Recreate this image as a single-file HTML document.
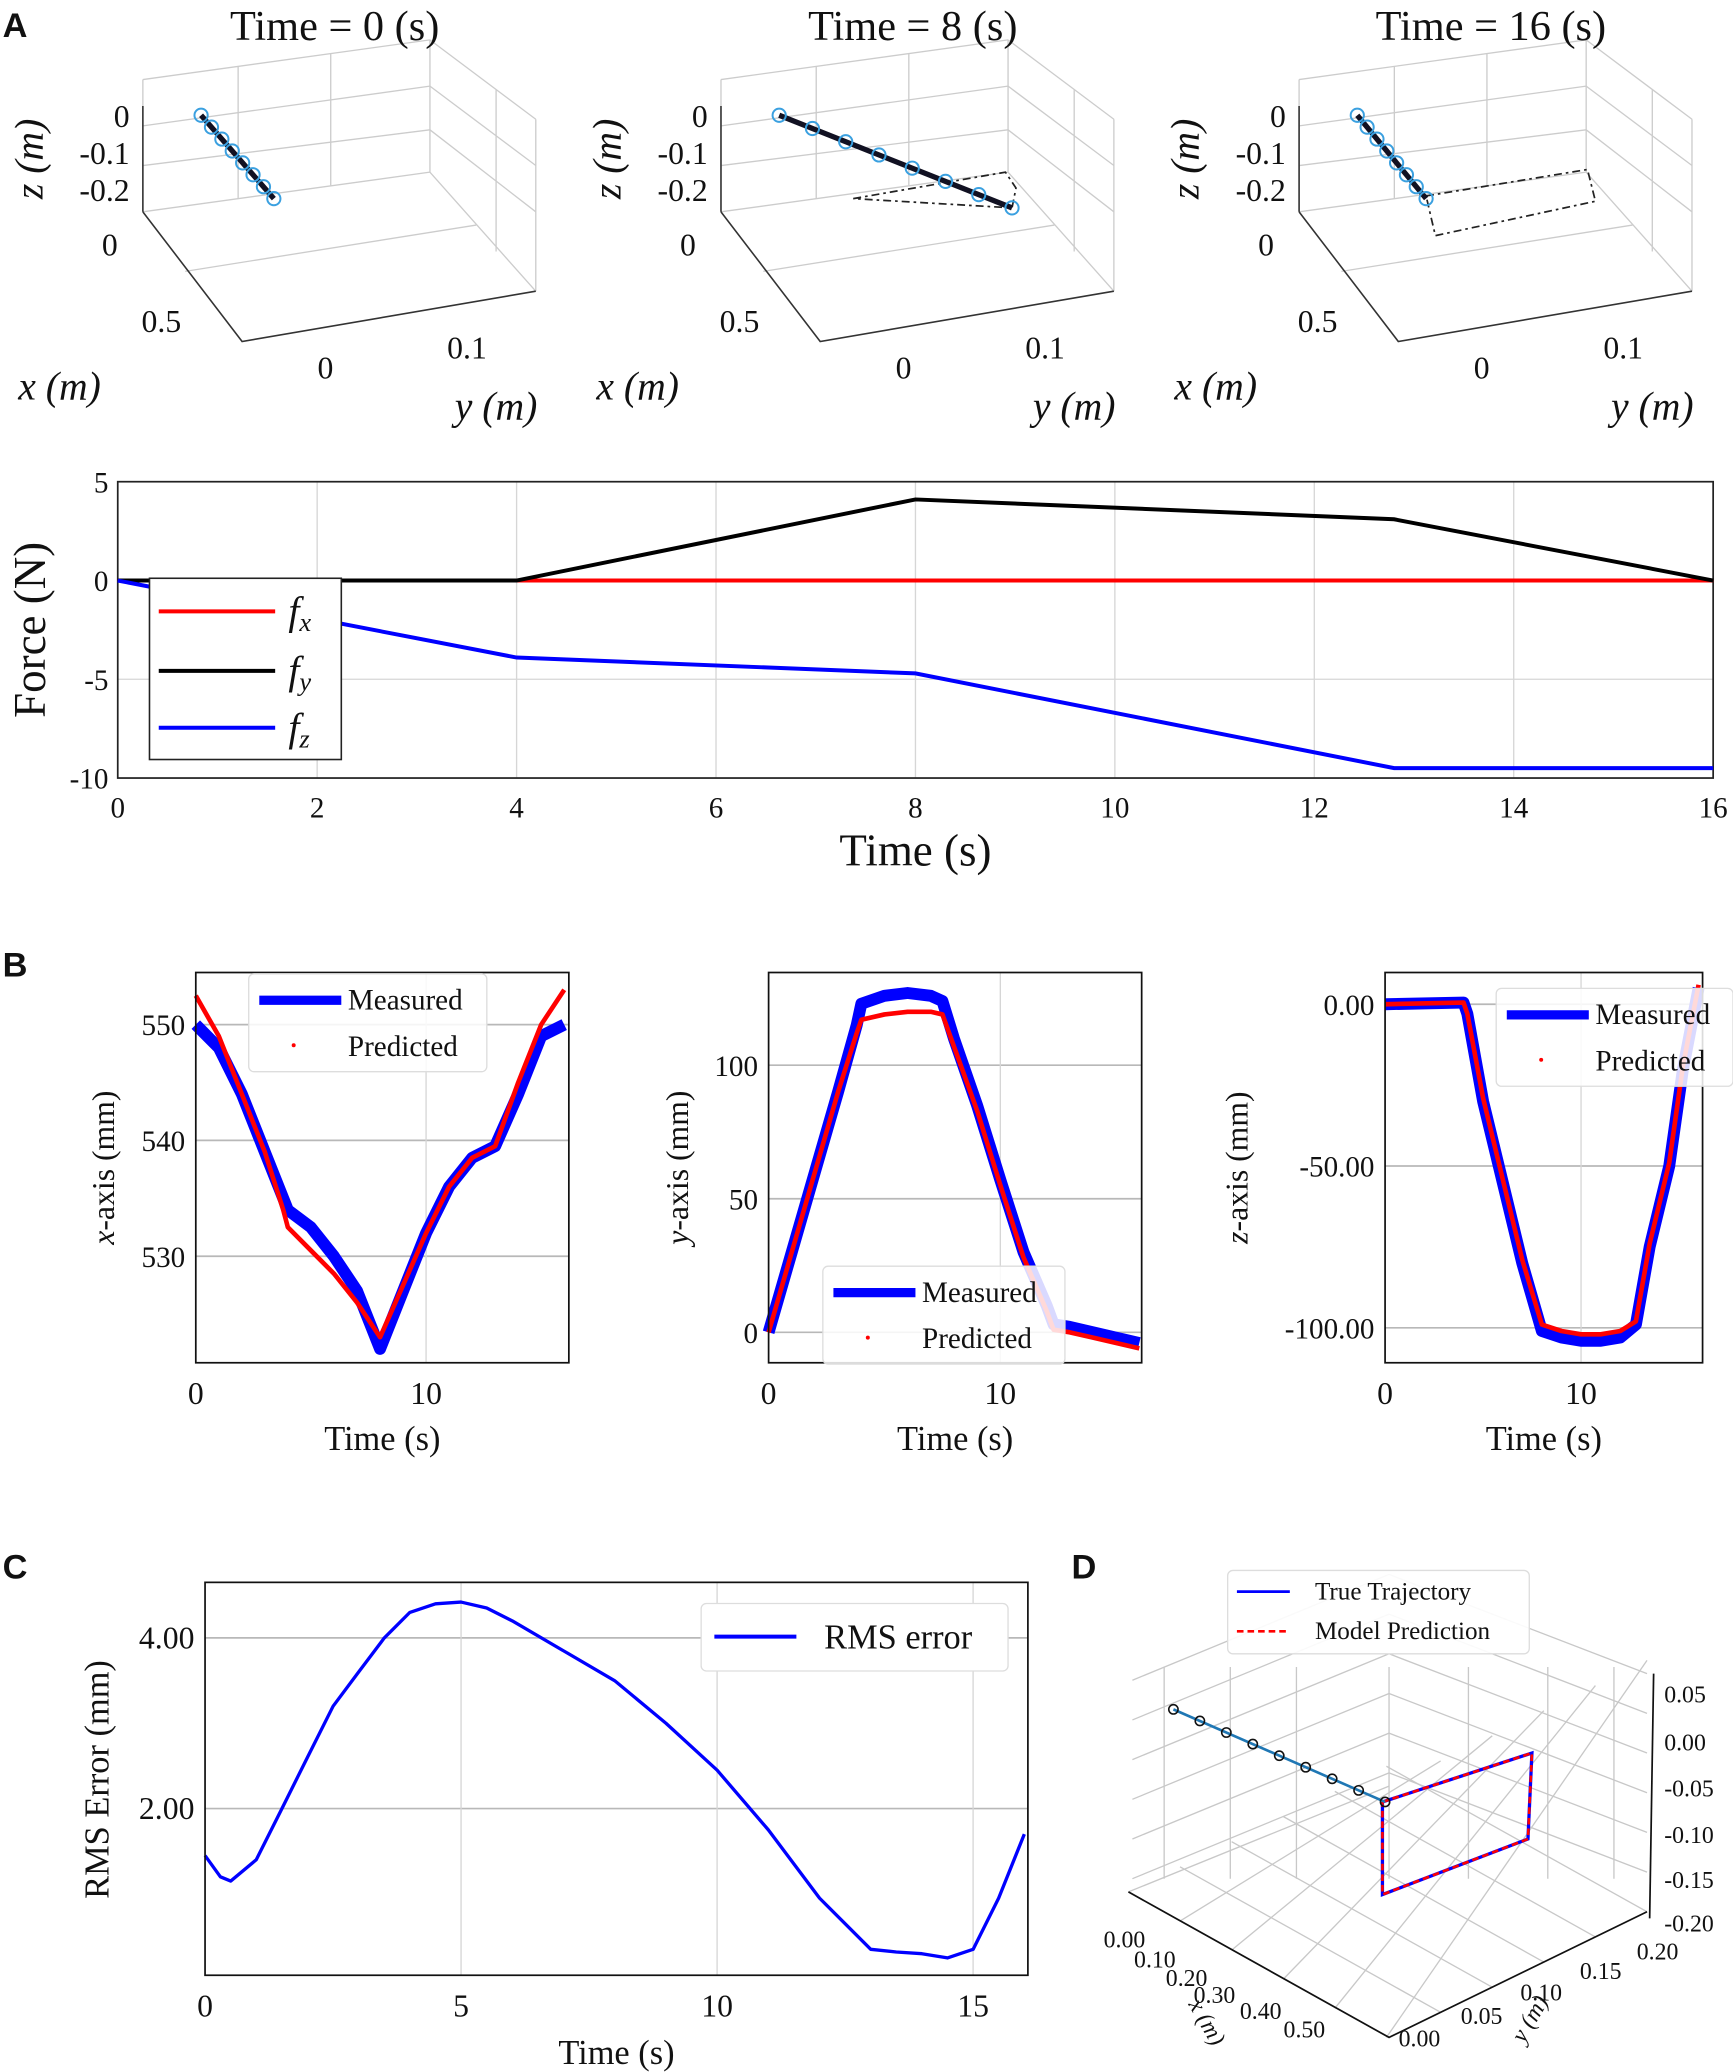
<!DOCTYPE html>
<html><head><meta charset="utf-8"><style>
html,body{margin:0;padding:0;background:#fff}
svg{display:block}
text{font-family:"Liberation Serif",serif;fill:#111}
.pl{font-family:"Liberation Sans",sans-serif;font-weight:bold;font-size:26px}
.g{stroke:#d6d6d6;stroke-width:1}
.g2{stroke:#b8b8b8;stroke-width:1.3}
.t{font-size:22px}
</style></head><body>
<svg id="fig" width="1733" height="2072" viewBox="0 0 1310 1566" xmlns="http://www.w3.org/2000/svg">
<text class="pl" x="2" y="28">A</text>
<text class="pl" x="2" y="738">B</text>
<text class="pl" x="2" y="1193">C</text>
<text class="pl" x="810" y="1193">D</text>
<g id="a3d"></g>
<g id="force"></g>
<g id="b1"></g>
<g id="b2"></g>
<g id="b3"></g>
<g id="c"></g>
<g id="d"></g>
</svg>
<script>
// ---- data ----
const forceT = [0, 4, 8, 12.8, 16];
const forceFx = [0, 0, 0, 0, 0];
const forceFy = [0, 0, 4.1, 3.1, 0];
const forceFz = [0, -3.9, -4.7, -9.5, -9.5];
const forceXTicks = [0, 2, 4, 6, 8, 10, 12, 14, 16];
const forceYTicks = [5, 0, -5, -10];

const bxT = [0, 1, 2, 3, 3.8, 4, 5, 6, 7, 8, 9, 10, 11, 12, 13, 14, 15, 16];
const bxMeas = [550, 548, 544, 539, 535, 534, 532.5, 530, 527, 522, 527, 532, 536, 538.5, 539.5, 544, 549, 550];
const bxPred = [552.5, 549, 544, 539, 534, 532.5, 530.5, 528.5, 526, 523, 527.5, 532, 536, 538.5, 539.5, 545, 550, 553];
const bxYTicks = [550, 540, 530];

const byT = [0, 1, 2, 3, 3.8, 4, 5, 6, 7, 7.5, 8, 9, 10, 11, 12, 12.3, 13, 14, 15, 16];
const byMeas = [0, 30, 60, 90, 115, 123, 126, 127, 126, 124, 110, 85, 57, 30, 10, 3, 2, 0, -2, -4];
const byPred = [0, 30, 60, 90, 112, 117, 119, 120, 120, 119, 107, 83, 55, 28, 8, 1, 0, -2, -4, -6];
const byYTicks = [100, 50, 0];

const bzT = [0, 4, 4.2, 5, 6, 7, 8, 9, 10, 11, 12, 12.8, 13.5, 14.5, 15.2, 16];
const bzMeas = [0, 0.5, -3, -30, -55, -80, -101, -103, -104, -104, -103, -99, -75, -50, -20, 5];
const bzPred = [0, 0.5, -3, -29, -54, -79, -99, -101, -102, -102, -101, -98, -74, -49, -19, 6];
const bzYTicks = [0, -50, -100];
const bzYLabels = ["0.00", "-50.00", "-100.00"];

const cT = [0, 0.3, 0.5, 1, 1.5, 2, 2.5, 3, 3.5, 4, 4.5, 5, 5.5, 6, 7, 8, 9, 10, 11, 12, 13, 13.5, 14, 14.5, 15, 15.5, 16];
const cRms = [1.45, 1.2, 1.15, 1.4, 2.0, 2.6, 3.2, 3.6, 4.0, 4.3, 4.4, 4.42, 4.35, 4.2, 3.85, 3.5, 3.0, 2.45, 1.75, 0.95, 0.35, 0.32, 0.3, 0.25, 0.35, 0.95, 1.7];
const cYTicks = [4, 2];
const cYLabels = ["4.00", "2.00"];
const bXTicks = [0, 10];
const cXTicks = [0, 5, 10, 15];

const NS = "http://www.w3.org/2000/svg";
function mk(parent, tag, attrs, txt) {
  const e = document.createElementNS(NS, tag);
  for (const k in attrs) e.setAttribute(k, attrs[k]);
  if (txt !== undefined) e.textContent = txt;
  parent.appendChild(e);
  return e;
}
function lin(d0, d1, r0, r1) { return v => r0 + (v - d0) * (r1 - r0) / (d1 - d0); }
function pts(xs, ys, X, Y) { return xs.map((v, i) => X(v).toFixed(1) + "," + Y(ys[i]).toFixed(1)).join(" "); }

// ---- Force chart ----
(function () {
  const g = document.getElementById('force');
  const X = lin(0, 16, 89, 1295), Y = lin(5, -10, 364, 588);
  forceXTicks.forEach(v => {
    const l = mk(g, 'line', { x1: X(v), x2: X(v), y1: 364, y2: 588, class: 'g' });
    
    
    const t = mk(g, 'text', { x: X(v), y: 618, 'text-anchor': 'middle', 'font-size': 22 }, v);
    
    
  });
  forceYTicks.forEach(v => {
    const l = mk(g, 'line', { x1: 89, x2: 1295, y1: Y(v), y2: Y(v), class: 'g' });
    
    
    const t = mk(g, 'text', { x: 82, y: Y(v) + 8, 'text-anchor': 'end', 'font-size': 22 }, v);
    
    
  });
  const ax = mk(g, 'rect', { x: 89, y: 364, width: 1206, height: 224, fill: 'none', stroke: '#222', 'stroke-width': 1.3 });
  
  
  const s1 = mk(g, 'polyline', { points: pts(forceT, forceFx, X, Y), fill: 'none', stroke: '#f00', 'stroke-width': 3 });
  
  
  const s2 = mk(g, 'polyline', { points: pts(forceT, forceFy, X, Y), fill: 'none', stroke: '#000', 'stroke-width': 3 });
  
  
  const s3 = mk(g, 'polyline', { points: pts(forceT, forceFz, X, Y), fill: 'none', stroke: '#00f', 'stroke-width': 3 });
  
  
  const lg = mk(g, 'g', {});
  
  
  mk(lg, 'rect', { x: 113, y: 437, width: 145, height: 137, fill: '#fff', stroke: '#222', 'stroke-width': 1.2 });
  [['#f00', 'x', 462], ['#000', 'y', 507], ['#00f', 'z', 550]].forEach(e => {
    mk(lg, 'line', { x1: 120, x2: 208, y1: e[2], y2: e[2], stroke: e[0], 'stroke-width': 3 });
    const t = mk(lg, 'text', { x: 218, y: e[2] + 10, 'font-size': 30, 'font-style': 'italic' }, 'f');
    mk(t, 'tspan', { 'font-size': 20, dy: 5 }, e[1]);
  });
  const xl = mk(g, 'text', { x: 692, y: 654, 'text-anchor': 'middle', 'font-size': 34 }, 'Time (s)');
  
  
  const yl = mk(g, 'text', { x: 0, y: 0, 'text-anchor': 'middle', 'font-size': 34, transform: 'translate(34,476) rotate(-90)' }, 'Force (N)');
  
  
})();

// ---- B panels ----
function bchart(id, box, xmax, ymin, ymax, T, M, P, yt, ylab, ytitle, leg) {
  const g = document.getElementById(id);
  const [x0, y0, x1, y1] = box;
  const X = lin(0, xmax, x0, x1), Y = lin(ymax, ymin, y0, y1);
  yt.forEach((v, i) => {
    const l = mk(g, 'line', { x1: x0, x2: x1, y1: Y(v), y2: Y(v), class: 'g2' });
    
    
    const t = mk(g, 'text', { x: x0 - 8, y: Y(v) + 8, 'text-anchor': 'end', class: 't', 'font-size': 24 }, ylab ? ylab[i] : v);
    
    
  });
  bXTicks.forEach(v => {
    if (v > 0) {
      const l = mk(g, 'line', { x1: X(v), x2: X(v), y1: y0, y2: y1, class: 'g' });
      
      
    }
    const t = mk(g, 'text', { x: X(v), y: y1 + 31, 'text-anchor': 'middle', 'font-size': 24 }, v);
    
    
  });
  const m = mk(g, 'polyline', { points: pts(T, M, X, Y), fill: 'none', stroke: '#00f', 'stroke-width': 9, 'stroke-linejoin': 'round' });
  
  
  const p = mk(g, 'polyline', { points: pts(T, P, X, Y), fill: 'none', stroke: '#f00', 'stroke-width': 3.5, 'stroke-linejoin': 'round' });
  
  
  const fr = mk(g, 'rect', { x: x0, y: y0, width: x1 - x0, height: y1 - y0, fill: 'none', stroke: '#111', 'stroke-width': 1.3 });
  
  
  const lg = mk(g, 'g', {});
  
  
  mk(lg, 'rect', { x: leg[0], y: leg[1], width: leg[2], height: 74, rx: 4, fill: 'rgba(255,255,255,0.85)', stroke: '#ddd' });
  mk(lg, 'line', { x1: leg[0] + 8, x2: leg[0] + 70, y1: leg[1] + 20, y2: leg[1] + 20, stroke: '#00f', 'stroke-width': 7 });
  mk(lg, 'text', { x: leg[0] + 75, y: leg[1] + 27, 'font-size': 22 }, 'Measured');
  mk(lg, 'circle', { cx: leg[0] + 34, cy: leg[1] + 54, r: 1.5, fill: '#f00' });
  mk(lg, 'text', { x: leg[0] + 75, y: leg[1] + 62, 'font-size': 22 }, 'Predicted');
  const xl = mk(g, 'text', { x: (x0 + x1) / 2, y: y1 + 66, 'text-anchor': 'middle', 'font-size': 26 }, 'Time (s)');
  
  
  const yl = mk(g, 'text', { x: 0, y: 0, 'text-anchor': 'middle', 'font-size': 24, transform: 'translate(' + ytitle[1] + ',' + ((y0 + y1) / 2) + ') rotate(-90)' });
  mk(yl, 'tspan', { 'font-style': 'italic' }, ytitle[0]);
  mk(yl, 'tspan', {}, '-axis (mm)');
  
  
}
bchart('b1', [148, 735, 430, 1030], 16.2, 520.8, 554.5, bxT, bxMeas, bxPred, bxYTicks, null, ['x', 86], [188, 736, 180]);
bchart('b2', [581, 735, 863, 1030], 16.1, -11.4, 134.7, byT, byMeas, byPred, byYTicks, null, ['y', 520], [622, 957, 183]);
bchart('b3', [1047, 735, 1287, 1030], 16.2, -110.8, 9.8, bzT, bzMeas, bzPred, bzYTicks, bzYLabels, ['z', 943], [1131, 747, 179]);

// ---- C ----
(function () {
  const g = document.getElementById('c');
  const x0 = 155, y0 = 1196, x1 = 777, y1 = 1493;
  const X = lin(0, 16.07, x0, x1), Y = lin(4, 2, 1238, 1367);
  cYTicks.forEach((v, i) => {
    const l = mk(g, 'line', { x1: x0, x2: x1, y1: Y(v), y2: Y(v), class: 'g2' });
    
    
    const t = mk(g, 'text', { x: x0 - 8, y: Y(v) + 8, 'text-anchor': 'end', 'font-size': 24 }, cYLabels[i]);
    
    
  });
  cXTicks.forEach(v => {
    if (v > 0) {
      const l = mk(g, 'line', { x1: X(v), x2: X(v), y1: y0, y2: y1, class: 'g' });
      
      
    }
    const t = mk(g, 'text', { x: X(v), y: y1 + 31, 'text-anchor': 'middle', 'font-size': 24 }, v);
    
    
  });
  const s = mk(g, 'polyline', { points: pts(cT, cRms, X, Y), fill: 'none', stroke: '#00f', 'stroke-width': 2.5, 'stroke-linejoin': 'round' });
  
  
  const fr = mk(g, 'rect', { x: x0, y: y0, width: x1 - x0, height: y1 - y0, fill: 'none', stroke: '#111', 'stroke-width': 1.3 });
  
  
  const lg = mk(g, 'g', {});
  
  
  mk(lg, 'rect', { x: 530, y: 1212, width: 232, height: 51, rx: 4, fill: '#fff', stroke: '#ddd' });
  mk(lg, 'line', { x1: 540, x2: 602, y1: 1237, y2: 1237, stroke: '#00f', 'stroke-width': 3 });
  mk(lg, 'text', { x: 623, y: 1246, 'font-size': 26 }, 'RMS error');
  const xl = mk(g, 'text', { x: 466, y: 1560, 'text-anchor': 'middle', 'font-size': 26 }, 'Time (s)');
  
  
  const yl = mk(g, 'text', { x: 0, y: 0, 'text-anchor': 'middle', 'font-size': 26, transform: 'translate(82,1345) rotate(-90)' }, 'RMS Error (mm)');
  
  
})();
</script>
<script>
// ---- static-ish 3D panels ----
(function () {
  const g = document.getElementById('a3d');
  const titles = ['Time = 0 (s)', 'Time = 8 (s)', 'Time = 16 (s)'];
  const rodEnd = [[207, 150], [765, 157], [1078, 150]];
  const loops = [null, [[645, 150], [760, 130], [768, 142], [765, 157]], [[1078, 148], [1200, 128], [1206, 152], [1085, 178]]];
  titles.forEach((tt, k) => {
    const o = k * 437;
    const p = mk(g, 'g', { transform: 'translate(' + o + ',0)' });
    
    
    const gs = 'stroke:#ccc;stroke-width:1;fill:none';
    [[108, 60, 325, 30], [325, 30, 405, 90], [108, 160, 325, 130], [325, 130, 405, 220], [325, 30, 325, 130], [250, 40, 250, 140], [180, 50, 180, 150], [108, 60, 108, 160], [108, 95, 325, 65], [108, 125, 325, 98], [325, 65, 405, 125], [325, 98, 405, 160], [375, 68, 375, 190], [405, 90, 405, 220], [140, 205, 360, 170]].forEach(L => mk(p, 'line', { x1: L[0], y1: L[1], x2: L[2], y2: L[3], style: gs }));
    mk(p, 'polyline', { points: '108,160 183,258 405,220', fill: 'none', stroke: '#333', 'stroke-width': 1.2 });
    mk(p, 'line', { x1: 108, y1: 80, x2: 108, y2: 160, stroke: '#333', 'stroke-width': 1.2 });
    const t = mk(p, 'text', { x: 253, y: 30, 'text-anchor': 'middle', 'font-size': 32 }, tt);
    
    
    [['0', 98, 96], ['-0.1', 98, 124], ['-0.2', 98, 152]].forEach(e => mk(p, 'text', { x: e[1], y: e[2], 'text-anchor': 'end', 'font-size': 24 }, e[0]));
    mk(p, 'text', { x: 83, y: 193, 'text-anchor': 'middle', 'font-size': 24 }, '0');
    mk(p, 'text', { x: 122, y: 251, 'text-anchor': 'middle', 'font-size': 24 }, '0.5');
    mk(p, 'text', { x: 246, y: 286, 'text-anchor': 'middle', 'font-size': 24 }, '0');
    mk(p, 'text', { x: 353, y: 271, 'text-anchor': 'middle', 'font-size': 24 }, '0.1');
    mk(p, 'text', { x: 45, y: 302, 'text-anchor': 'middle', 'font-size': 30 }, 'x (m)').setAttribute('font-style', 'italic');
    mk(p, 'text', { x: 375, y: 317, 'text-anchor': 'middle', 'font-size': 30 }, 'y (m)').setAttribute('font-style', 'italic');
    mk(p, 'text', { x: 0, y: 0, 'text-anchor': 'middle', 'font-size': 30, 'font-style': 'italic', transform: 'translate(32,120) rotate(-90)' }, 'z (m)');
    if (loops[k]) mk(p, 'polygon', { points: loops[k].map(q => (q[0] - o) + ',' + q[1]).join(' '), fill: 'none', stroke: '#222', 'stroke-width': 1.3, 'stroke-dasharray': '6,3,2,3' });
    const ex = rodEnd[k][0] - o, ey = rodEnd[k][1];
    mk(p, 'line', { x1: 152, y1: 87, x2: ex, y2: ey, stroke: '#112', 'stroke-width': 4 });
    for (let i = 0; i <= 7; i++) mk(p, 'circle', { cx: 152 + (ex - 152) * i / 7, cy: 87 + (ey - 87) * i / 7, r: 5, fill: 'none', stroke: '#3aa0e0', 'stroke-width': 1.5 });
  });
  // D
  const d = document.getElementById('d');
  const gs = 'stroke:#c8c8c8;stroke-width:1;fill:none';
  for (let i = 0; i < 6; i++) {
    mk(d, 'line', { x1: 856, y1: 1270 + i * 30, x2: 1050, y2: 1190 + i * 30, style: gs });
    mk(d, 'line', { x1: 1050, y1: 1190 + i * 30, x2: 1245, y2: 1265 + i * 30, style: gs });
  }
  for (let i = 0; i < 6; i++) {
    mk(d, 'line', { x1: 853 + i * 39, y1: 1430 + i * 22, x2: 1050 + i * 39, y2: 1350 - i * 19, style: gs });
    mk(d, 'line', { x1: 1050 + i * 39, y1: 1540 - i * 19, x2: 853 + i * 39, y2: 1430 - i * 19, style: gs });
  }
  [880, 930, 980, 1050, 1110, 1170, 1220].forEach(x => mk(d, 'line', { x1: x, y1: 1260, x2: x, y2: 1420, style: gs }));
  mk(d, 'polyline', { points: '853,1430 1050,1540 1245,1445', fill: 'none', stroke: '#111', 'stroke-width': 1.3 });
  mk(d, 'line', { x1: 1250, y1: 1265, x2: 1247, y2: 1450, stroke: '#111', 'stroke-width': 1.3 });
  [['0.05', 1280], ['0.00', 1316], ['-0.05', 1351], ['-0.10', 1386], ['-0.15', 1420], ['-0.20', 1453]].forEach(e => mk(d, 'text', { x: 1258, y: e[1] + 7, 'font-size': 18 }, e[0]));
  [['0.00', 850, 1472], ['0.10', 873, 1487], ['0.20', 897, 1501], ['0.30', 918, 1514], ['0.40', 953, 1526], ['0.50', 986, 1540]].forEach(e => mk(d, 'text', { x: e[1], y: e[2], 'text-anchor': 'middle', 'font-size': 18 }, e[0]));
  [['0.00', 1073, 1547], ['0.05', 1120, 1530], ['0.10', 1165, 1512], ['0.15', 1210, 1496], ['0.20', 1253, 1481]].forEach(e => mk(d, 'text', { x: e[1], y: e[2], 'text-anchor': 'middle', 'font-size': 18 }, e[0]));
  mk(d, 'text', { x: 0, y: 0, 'font-size': 18, 'font-style': 'italic', transform: 'translate(898,1515) rotate(60)' }, 'x (m)');
  mk(d, 'text', { x: 0, y: 0, 'font-size': 18, 'font-style': 'italic', transform: 'translate(1152,1545) rotate(-60)' }, 'y (m)');
  const loop = '1045,1362 1158,1325 1155,1390 1045,1432 1045,1362';
  const tl = mk(d, 'polyline', { points: loop, fill: 'none', stroke: '#00f', 'stroke-width': 2.5 });
  
  
  const mp = mk(d, 'polyline', { points: loop, fill: 'none', stroke: '#f00', 'stroke-width': 2, 'stroke-dasharray': '5,3' });
  
  
  mk(d, 'line', { x1: 887, y1: 1292, x2: 1047, y2: 1362, stroke: '#1f77b4', 'stroke-width': 2 });
  for (let i = 0; i <= 8; i++) mk(d, 'circle', { cx: 887 + 160 * i / 8, cy: 1292 + 70 * i / 8, r: 3.5, fill: 'none', stroke: '#111', 'stroke-width': 1.2 });
  const lg = mk(d, 'g', {});
  
  
  mk(lg, 'rect', { x: 928, y: 1187, width: 228, height: 63, rx: 4, fill: 'rgba(255,255,255,0.9)', stroke: '#ddd' });
  mk(lg, 'line', { x1: 935, x2: 975, y1: 1203, y2: 1203, stroke: '#00f', 'stroke-width': 2 });
  mk(lg, 'text', { x: 994, y: 1209, 'font-size': 19 }, 'True Trajectory');
  mk(lg, 'line', { x1: 935, x2: 975, y1: 1233, y2: 1233, stroke: '#f00', 'stroke-width': 2, 'stroke-dasharray': '5,3' });
  mk(lg, 'text', { x: 994, y: 1239, 'font-size': 19 }, 'Model Prediction');
})();
</script>
</body></html>
